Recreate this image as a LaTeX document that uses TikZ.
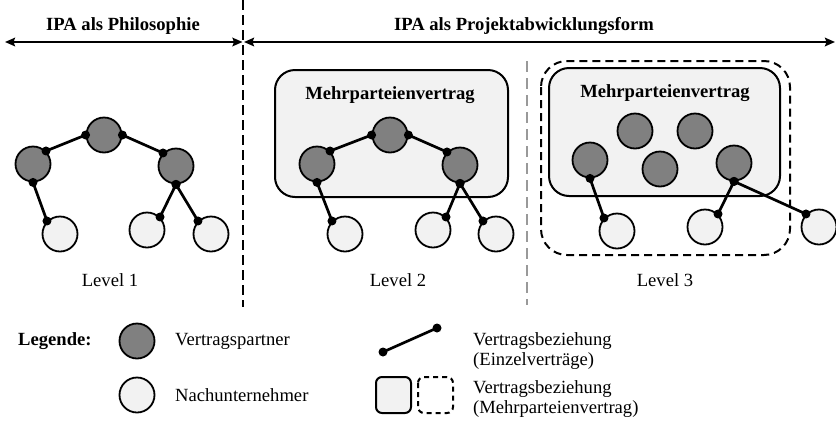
\documentclass[tikz,border=0pt]{standalone}
\usepackage{fontspec}
\setmainfont{Liberation Serif}
\usetikzlibrary{arrows.meta}
\definecolor{partnerfill}{HTML}{808080}
\definecolor{subfill}{HTML}{F2F2F2}
\definecolor{sepgray}{HTML}{999999}
\tikzset{
  partner/.style={circle, draw=black, line width=1.8pt, fill=partnerfill, minimum size=35pt, inner sep=0pt},
  sub/.style={circle, draw=black, line width=1.8pt, fill=subfill, minimum size=35pt, inner sep=0pt},
  joint/.style={circle, fill=black, inner sep=0pt, minimum size=9pt},
  link/.style={line width=2.7pt},
  mpbox/.style={draw=black, line width=2pt, fill=subfill, rounded corners=20pt},
  mpdash/.style={draw=black, line width=2pt, dash pattern=on 8pt off 5pt, rounded corners=26pt},
  head/.style={font=\fontsize{18.6}{20}\selectfont\bfseries},
  lvl/.style={font=\fontsize{18.6}{20}\selectfont},
  legtext/.style={font=\fontsize{18.6}{19.5}\selectfont, align=left, anchor=west, inner sep=0pt},
  span/.style={line width=2.3pt, {Stealth[length=10pt,width=8.5pt,inset=1.5pt]}-{Stealth[length=10pt,width=8.5pt,inset=1.5pt]}},
}
% draw a single contract: a line between two anchors with a joint at each end
\newcommand{\contract}[2]{%
  \draw[link] (#1) -- (#2);
  \node[joint] at (#1) {};
  \node[joint] at (#2) {};
}
\begin{document}
\begin{tikzpicture}[x=1pt, y=-1pt]
\useasboundingbox (0,0) rectangle (836,424);

% ---- header: scope arrows and separators ----
\coordinate (phL) at (5,42);
\coordinate (phR) at (242.5,42);
\coordinate (pjL) at (244,42);
\coordinate (pjR) at (835,42);
\draw[span] (phL) -- (phR);
\draw[span] (pjL) -- (pjR);
\node[head] (tphil) at (123,26) {IPA als Philosophie};
\node[head] (tproj) at (524,26) {IPA als Projektabwicklungsform};

\coordinate (sepAtop) at (243,0);
\coordinate (sepAbot) at (243,307);
\draw[line width=2.6pt, dash pattern=on 10pt off 5pt] (sepAtop) -- (sepAbot);
\coordinate (sepBtop) at (527,61);
\coordinate (sepBbot) at (527,305);
\draw[sepgray, line width=2.6pt, dash pattern=on 11pt off 6pt] (sepBtop) -- (sepBbot);

% ---- level 1 ----
\node[partner] (p1t) at (104,135) {};
\node[partner] (p1l) at (33,164) {};
\node[partner] (p1r) at (176,166) {};
\node[sub] (s1a) at (60,234) {};
\node[sub] (s1b) at (147,230) {};
\node[sub] (s1c) at (211,234) {};
\contract{p1l.north east}{p1t.west}
\contract{p1t.east}{p1r.north west}
\contract{p1l.south}{s1a.north west}
\contract{p1r.south}{s1b.north east}
\contract{p1r.south}{s1c.north west}
\node[lvl] (lv1) at (110,280) {Level 1};

% ---- level 2 ----
\draw[mpbox] (275,70) rectangle (508,197);
\node[head] (mp2) at (390,95) {Mehrparteienvertrag};
\node[partner] (p2t) at (390,135) {};
\node[partner] (p2l) at (317,164) {};
\node[partner] (p2r) at (460,165) {};
\node[sub] (s2a) at (345,234) {};
\node[sub] (s2b) at (433,230) {};
\node[sub] (s2c) at (496,234) {};
\contract{p2l.north east}{p2t.west}
\contract{p2t.east}{p2r.north west}
\contract{p2l.south}{s2a.north west}
\contract{p2r.south}{s2b.north east}
\contract{p2r.south}{s2c.north west}
\node[lvl] (lv2) at (398,280) {Level 2};

% ---- level 3 ----
\draw[mpdash] (541,61) rectangle (790,255);
\draw[mpbox] (549,68) rectangle (780,196);
\node[head] (mp3) at (665,93) {Mehrparteienvertrag};
\node[partner] (p3a) at (590,160) {};
\node[partner] (p3b) at (635,131) {};
\node[partner] (p3c) at (660,169) {};
\node[partner] (p3d) at (695,131) {};
\node[partner] (p3e) at (734,163) {};
\node[sub] (s3a) at (617,231) {};
\node[sub] (s3b) at (705,227) {};
\node[sub] (s3c) at (819,227) {};
\contract{p3a.south}{s3a.north west}
\contract{p3e.south}{s3b.north east}
\contract{p3e.south}{s3c.north west}
\node[lvl] (lv3) at (665,280) {Level 3};

% ---- legend ----
\node[head, anchor=west, inner sep=0pt] (leg) at (18,341) {Legende:};
\node[partner] (lgp) at (137,341) {};
\node[legtext] (lgpt) at (175,341) {Vertragspartner};
\node[sub] (lgs) at (137,395) {};
\node[legtext] (lgst) at (175,395) {Nachunternehmer};

\coordinate (lgla) at (383,352);
\coordinate (lglb) at (437,328);
\contract{lgla}{lglb}
\node[legtext] (lglt) at (473,351) {Vertragsbeziehung\\(Einzelverträge)};

\draw[mpbox, rounded corners=6pt] (376,377) rectangle (411,413);
\draw[mpdash, rounded corners=6pt, dash pattern=on 5pt off 4pt] (418,377) rectangle (453,413);
\node[legtext] (lgbt) at (473,399) {Vertragsbeziehung\\(Mehrparteienvertrag)};
\end{tikzpicture}
\end{document}
